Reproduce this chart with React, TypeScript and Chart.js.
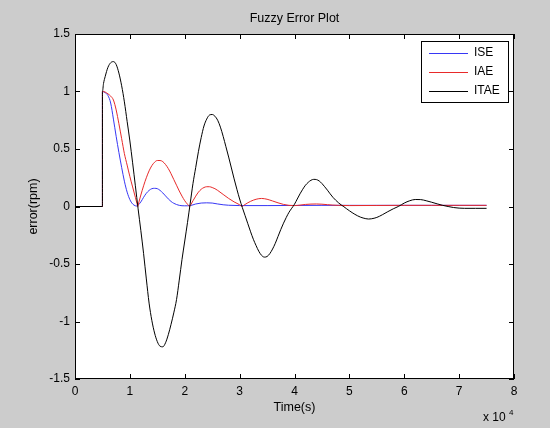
import React, { useEffect, useRef } from "react";
import { Chart, registerables } from "chart.js";

Chart.register(...registerables);

const seriesNames = ["ISE", "IAE", "ITAE"];
const seriesColors = ["#3737f5", "#e82a2a", "#000000"];

const xTickValues = [0, 10000, 20000, 30000, 40000, 50000, 60000, 70000, 80000];
const yTickValues = [-1.5, -1, -0.5, 0, 0.5, 1, 1.5];

const iseTime = [0, 5000, 5000, 5500, 6000, 6500, 7000, 7500, 8000, 8500, 9000, 9500, 10000, 10500, 11000, 11200, 11500, 12000, 12500, 13000, 13500, 14000, 14500, 15000, 15500, 16000, 16500, 17000, 17500, 18000, 19000, 20000, 21000, 22000, 23000, 24000, 25000, 26000, 27000, 28000, 30000, 35000, 40000, 45000, 50000, 55000, 60000, 65000, 70000, 75000];
const iseError = [0, 0, 1.0, 0.99, 0.965, 0.9, 0.76, 0.61, 0.47, 0.34, 0.22, 0.125, 0.06, 0.022, 0.006, 0.004, 0.012, 0.04, 0.08, 0.115, 0.14, 0.155, 0.158, 0.155, 0.14, 0.118, 0.092, 0.066, 0.044, 0.028, 0.01, 0.006, 0.008, 0.022, 0.03, 0.032, 0.03, 0.022, 0.015, 0.011, 0.008, 0.008, 0.009, 0.01, 0.01, 0.01, 0.01, 0.01, 0.01, 0.01];

const iaeTime = [0, 5000, 5000, 5500, 6000, 6500, 7000, 7500, 8000, 8500, 9000, 9500, 10000, 10500, 11000, 11300, 11450, 11600, 12000, 12500, 13000, 13500, 14000, 14500, 15000, 15500, 16000, 16500, 17000, 17500, 18000, 18500, 19000, 19500, 20000, 20500, 20900, 21100, 21500, 22000, 22500, 23000, 23500, 24000, 24500, 25000, 25500, 26000, 27000, 28000, 29000, 30000, 30500, 30700, 31000, 32000, 33000, 34000, 35000, 36000, 37000, 38000, 39000, 40000, 41000, 42000, 43000, 44000, 45000, 46000, 47000, 48000, 50000, 55000, 60000, 65000, 70000, 75000];
const iaeError = [0, 0, 1.0, 0.995, 0.98, 0.96, 0.926, 0.84, 0.72, 0.59, 0.46, 0.36, 0.26, 0.17, 0.08, 0.025, 0, 0.03, 0.1, 0.18, 0.25, 0.31, 0.355, 0.385, 0.4, 0.4, 0.39, 0.365, 0.33, 0.285, 0.235, 0.185, 0.135, 0.09, 0.05, 0.02, 0, 0.015, 0.05, 0.09, 0.125, 0.15, 0.165, 0.172, 0.172, 0.165, 0.155, 0.14, 0.105, 0.07, 0.04, 0.015, 0, 0.008, 0.018, 0.045, 0.063, 0.07, 0.063, 0.048, 0.032, 0.018, 0.01, 0.008, 0.012, 0.018, 0.021, 0.022, 0.02, 0.016, 0.012, 0.01, 0.008, 0.009, 0.01, 0.01, 0.01, 0.01];

const itaeTime = [0, 5000, 5000, 5200, 5500, 6000, 6500, 7000, 7500, 8000, 8500, 9000, 9500, 10000, 10500, 11000, 11500, 12000, 12500, 13000, 13500, 14000, 14500, 15000, 15500, 16000, 16500, 17000, 17500, 18000, 18500, 19000, 19500, 20000, 20500, 21000, 21500, 22000, 22500, 23000, 23500, 24000, 24500, 25000, 25500, 26000, 26500, 27000, 27500, 28000, 28500, 29000, 29500, 30000, 30500, 31000, 31500, 32000, 32500, 33000, 33500, 34000, 34500, 35000, 35500, 36000, 36500, 37000, 37500, 38000, 38500, 39000, 39500, 40000, 40500, 41000, 41500, 42000, 42500, 43000, 43500, 44000, 44500, 45000, 45500, 46000, 46500, 47000, 47500, 48000, 48500, 49000, 49500, 50000, 51000, 52000, 53000, 53500, 54000, 55000, 56000, 57000, 58000, 59000, 60000, 61000, 62000, 63000, 64000, 65000, 66000, 67000, 68000, 69000, 70000, 71000, 73000, 75000];
const itaeError = [0, 0, 1.0, 1.07, 1.13, 1.21, 1.25, 1.26, 1.235, 1.16, 1.05, 0.91, 0.74, 0.57, 0.38, 0.18, -0.02, -0.21, -0.41, -0.63, -0.84, -0.99, -1.1, -1.175, -1.215, -1.22, -1.185, -1.115, -1.025, -0.925, -0.81, -0.64, -0.46, -0.3, -0.14, 0.03, 0.2, 0.34, 0.48, 0.6, 0.7, 0.76, 0.795, 0.8, 0.785, 0.75, 0.69, 0.61, 0.52, 0.43, 0.335, 0.24, 0.15, 0.065, -0.01, -0.08, -0.15, -0.22, -0.285, -0.34, -0.39, -0.425, -0.44, -0.435, -0.41, -0.37, -0.32, -0.26, -0.2, -0.145, -0.095, -0.05, -0.015, 0.02, 0.065, 0.11, 0.15, 0.185, 0.21, 0.228, 0.236, 0.234, 0.222, 0.2, 0.172, 0.142, 0.11, 0.08, 0.055, 0.033, 0.014, -0.002, -0.02, -0.037, -0.068, -0.092, -0.106, -0.109, -0.107, -0.095, -0.072, -0.045, -0.02, 0.002, 0.03, 0.05, 0.061, 0.06, 0.05, 0.037, 0.023, 0.01, 0, -0.009, -0.014, -0.016, -0.016, -0.016];

const FONT = '"Liberation Sans", Arial, Helvetica, sans-serif';

function pairs(t: number[], v: number[]) {
  return t.map((x, i) => ({ x, y: v[i] }));
}

const matlabPlugin = {
  id: "matlabLook",
  beforeDraw(chart: any) {
    const { ctx, chartArea: a, width, height } = chart;
    ctx.save();
    ctx.fillStyle = "#cccccc";
    ctx.fillRect(0, 0, width, height);
    ctx.fillStyle = "#ffffff";
    ctx.fillRect(a.left, a.top, a.right - a.left, a.bottom - a.top);
    ctx.restore();
  },
  afterDraw(chart: any) {
    const { ctx, chartArea: a } = chart;
    const xs = chart.scales.x;
    const ys = chart.scales.y;
    ctx.save();
    ctx.strokeStyle = "#000000";
    ctx.lineWidth = 1;
    ctx.setLineDash([]);
    ctx.strokeRect(a.left + 0.5, a.top + 0.5, a.right - a.left - 1, a.bottom - a.top - 1);
    const tl = 5;
    ctx.beginPath();
    xTickValues.forEach((v) => {
      const px = Math.round(xs.getPixelForValue(v)) + 0.5;
      ctx.moveTo(px, a.bottom);
      ctx.lineTo(px, a.bottom - tl);
      ctx.moveTo(px, a.top);
      ctx.lineTo(px, a.top + tl);
    });
    yTickValues.forEach((v) => {
      const py = Math.round(ys.getPixelForValue(v)) + 0.5;
      ctx.moveTo(a.left, py);
      ctx.lineTo(a.left + tl, py);
      ctx.moveTo(a.right, py);
      ctx.lineTo(a.right - tl, py);
    });
    ctx.stroke();

    // legend box
    const lx = a.right - 93;
    const ly = a.top + 7;
    const lw = 87;
    const lh = 61;
    ctx.fillStyle = "#ffffff";
    ctx.fillRect(lx, ly, lw, lh);
    ctx.strokeStyle = "#000000";
    ctx.strokeRect(lx + 0.5, ly + 0.5, lw, lh);
    ctx.font = `12px ${FONT}`;
    ctx.textBaseline = "middle";
    ctx.textAlign = "left";
    seriesNames.forEach((name, i) => {
      const yy = ly + 11.5 + i * 19;
      ctx.beginPath();
      ctx.strokeStyle = seriesColors[i];
      ctx.lineWidth = 1;
      ctx.moveTo(lx + 8, Math.round(yy) + 0.5);
      ctx.lineTo(lx + 47, Math.round(yy) + 0.5);
      ctx.stroke();
      ctx.fillStyle = "#000000";
      ctx.fillText(name, lx + 53, yy);
    });

    // title and axis labels
    const cx = (a.left + a.right) / 2;
    ctx.fillStyle = "#000000";
    ctx.textAlign = "center";
    ctx.font = `12.5px ${FONT}`;
    ctx.fillText("Fuzzy Error Plot", cx, 19);
    ctx.fillText("Time(s)", cx, a.bottom + 29);
    ctx.save();
    ctx.translate(34, (a.top + a.bottom) / 2);
    ctx.rotate(-Math.PI / 2);
    ctx.fillText("error(rpm)", 0, 0);
    ctx.restore();
    ctx.textAlign = "left";
    ctx.font = `12px ${FONT}`;
    ctx.fillText("x 10", a.right - 31, a.bottom + 39);
    ctx.font = `8px ${FONT}`;
    ctx.fillText("4", a.right - 5, a.bottom + 34);
    ctx.restore();
  },
};

export default function App() {
  const ref = useRef<HTMLCanvasElement | null>(null);
  useEffect(() => {
    document.body.style.margin = "0";
    document.body.style.background = "#cccccc";
    if (!ref.current) return;
    const series = [
      pairs(iseTime, iseError),
      pairs(iaeTime, iaeError),
      pairs(itaeTime, itaeError),
    ];
    const chart = new Chart(ref.current, {
      type: "line",
      data: {
        datasets: seriesNames.map((name, i) => ({
          label: name,
          data: series[i],
          borderColor: seriesColors[i],
          borderWidth: 1,
          pointRadius: 0,
          fill: false,
          cubicInterpolationMode: "monotone" as const,
          order: 3 - i,
        })),
      },
      options: {
        responsive: false,
        animation: false,
        parsing: false as any,
        layout: { padding: { top: 34, right: 36, left: 0, bottom: 0 } },
        plugins: {
          legend: { display: false },
          title: { display: false },
          tooltip: { enabled: false },
        },
        scales: {
          x: {
            type: "linear",
            min: 0,
            max: 80000,
            grid: { display: false, drawTicks: false },
            border: { display: false },
            ticks: {
              stepSize: 10000,
              autoSkip: false,
              maxRotation: 0,
              padding: 5,
              color: "#000000",
              font: { family: FONT, size: 12 },
              callback: (v: any) => String(Number(v) / 10000),
            },
            afterFit: (s: any) => {
              s.height = 49;
            },
          },
          y: {
            type: "linear",
            min: -1.5,
            max: 1.5,
            grid: { display: false, drawTicks: false },
            border: { display: false },
            ticks: {
              stepSize: 0.5,
              padding: 5,
              color: "#000000",
              font: { family: FONT, size: 12 },
              callback: (v: any) => String(v),
            },
            afterFit: (s: any) => {
              s.width = 75;
            },
          },
        },
      },
      plugins: [matlabPlugin],
    });
    return () => chart.destroy();
  }, []);
  return (
    <div style={{ width: 550, height: 428 }}>
      <canvas ref={ref} width={550} height={428} style={{ display: "block", width: 550, height: 428 }} />
    </div>
  );
}
